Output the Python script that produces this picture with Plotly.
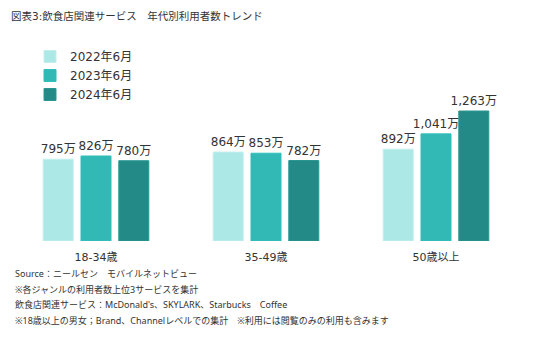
import plotly.graph_objects as go

categories = ["18-34歳", "35-49歳", "50歳以上"]
series_names = ["2022年6月", "2023年6月", "2024年6月"]
v2022 = [795, 864, 892]
v2023 = [826, 853, 1041]
v2024 = [780, 782, 1263]
colors = ["#ABE8E6", "#32B8B5", "#238A87"]
edge_colors = ["#C2EFEE", "#2FC0BC", "#2A9793"]

title_text = "図表3:飲食店関連サービス　年代別利用者数トレンド"
notes = [
    "Source：ニールセン　モバイルネットビュー",
    "※各ジャンルの利用者数上位3サービスを集計",
    "飲食店関連サービス：McDonald's、SKYLARK、Starbucks　Coffee",
    "※18歳以上の男女；Brand、Channelレベルでの集計　※利用には閲覧のみの利用も含みます",
]

FONT = "DejaVu Sans, Noto Sans CJK JP"
NOTE_FONT = "Noto Sans, Noto Sans CJK JP"
TXT = "#333333"

fig = go.Figure()
for name, vals, c, ec in zip(series_names, [v2022, v2023, v2024], colors, edge_colors):
    fig.add_trace(go.Bar(
        x=categories, y=vals, name=name,
        marker=dict(color=c, line=dict(color=ec, width=1)),
        texttemplate="%{y:,}万", textposition="outside",
        constraintext="none",
        textfont=dict(size=12, color=TXT, family=FONT),
        cliponaxis=False,
    ))

W, H = 536, 352
L, R, T, B = 11, 15, 100, 111
PW, PH = W - L - R, H - T - B

fig.update_layout(
    width=W, height=H,
    margin=dict(l=L, r=R, t=T, b=B),
    paper_bgcolor="white", plot_bgcolor="white",
    barmode="group", bargap=0.333, bargroupgap=0.206,
    font=dict(family=FONT, color=TXT, size=12),
    showlegend=True,
    legend=dict(
        x=(30 - L) / PW, xanchor="left",
        y=1 + (T - 42) / PH, yanchor="top",
        font=dict(size=12, color=TXT, family=FONT),
        itemwidth=30, tracegroupgap=0, bgcolor="rgba(0,0,0,0)",
    ),
    xaxis=dict(showgrid=False, showline=False, ticks="", zeroline=False,
               ticklabelstandoff=8,
               tickfont=dict(size=11, color=TXT, family=FONT)),
    yaxis=dict(visible=False, range=[0, 1370]),
)

fig.add_annotation(
    text=title_text, xref="paper", yref="paper",
    x=(9 - L) / PW, xanchor="left",
    y=1 + (T - 16) / PH, yanchor="middle",
    showarrow=False, font=dict(size=10.5, color=TXT, family=FONT),
)

note_ys = [273, 289, 304, 320]
for t, py in zip(notes, note_ys):
    fig.add_annotation(
        text=t, xref="paper", yref="paper",
        x=(13 - L) / PW, xanchor="left",
        y=-(py - (H - B)) / PH, yanchor="middle",
        showarrow=False, font=dict(size=9, color=TXT, family=NOTE_FONT),
    )

fig.write_html("out.html")
